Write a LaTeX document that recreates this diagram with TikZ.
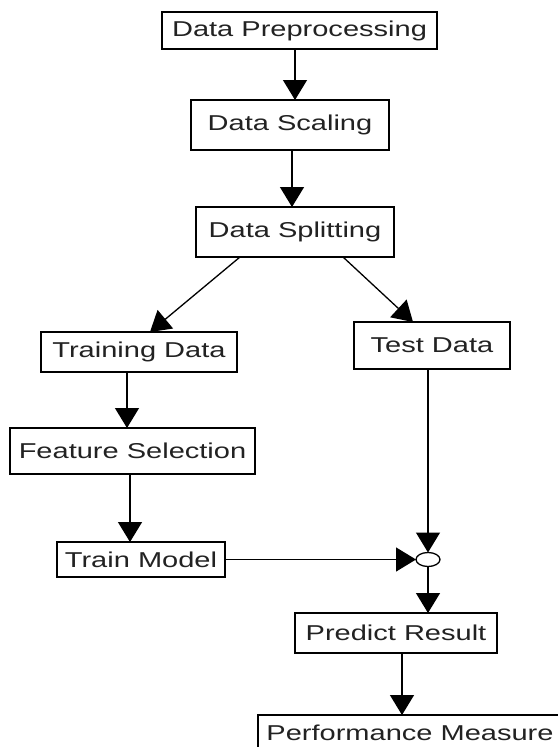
\documentclass[tikz,border=0pt]{standalone}
\usepackage{fontspec}
\setmainfont[FakeStretch=1.35]{Liberation Sans}
\usetikzlibrary{arrows.meta,shapes.geometric}
\definecolor{txt}{HTML}{222222}
\begin{document}
\begin{tikzpicture}[x=1pt,y=-1pt,
  box/.style={draw=black,line width=1.3pt,fill=white,inner sep=0pt,outer sep=0pt,
    text=txt,font=\fontsize{21.5}{24}\selectfont},
  arr/.style={draw=black,line width=1.3pt,-{Triangle[length=20pt,width=24pt]}},
  junction/.style={draw=black,line width=1.3pt,fill=white,ellipse,inner sep=0pt,outer sep=0pt,
    minimum width=24pt,minimum height=14pt}]
\useasboundingbox[fill=white] (0,0) rectangle (557,747);
\node[box,minimum width=275pt,minimum height=37pt] (pre) at (299.5,30.5) {Data Preprocessing};
\node[box,minimum width=198pt,minimum height=50pt] (scal) at (290,125) {Data Scaling};
\node[box,minimum width=198pt,minimum height=50pt] (split) at (295,232) {Data Splitting};
\node[box,minimum width=196pt,minimum height=40pt] (train) at (139,352) {Training Data};
\node[box,minimum width=156pt,minimum height=47pt] (test) at (432,345.5) {Test Data};
\node[box,minimum width=245pt,minimum height=46pt] (feat) at (132.5,451) {Feature Selection};
\node[box,minimum width=168pt,minimum height=35pt] (tm) at (141,559.5) {Train Model};
\node[junction] (circ) at (428,559.5) {};
\node[box,minimum width=202pt,minimum height=40pt] (pr) at (396,633) {Predict Result};
\node[box,minimum width=304pt,minimum height=36pt] (pm) at (410,733) {Performance Measure};

\draw[arr] ([xshift=-4.5pt]pre.south) -- ([xshift=5pt]scal.north);
\draw[arr] ([xshift=2pt]scal.south) -- ([xshift=-3pt]split.north);
\draw[arr] ([xshift=-55pt]split.south) -- ([xshift=11pt]train.north);
\draw[arr] ([xshift=48pt]split.south) -- ([xshift=-19pt]test.north);
\draw[arr] ([xshift=-12pt]train.south) -- ([xshift=-5.5pt]feat.north);
\draw[arr] ([xshift=-2.5pt]feat.south) -- ([xshift=-11pt]tm.north);
\draw[arr] ([xshift=-4pt]test.south) -- (circ.north);
\draw[arr] (tm.east) -- (circ.west);
\draw[arr] (circ.south) -- ([xshift=32pt]pr.north);
\draw[arr] ([xshift=6pt]pr.south) -- ([xshift=-8pt]pm.north);
\end{tikzpicture}
\end{document}
